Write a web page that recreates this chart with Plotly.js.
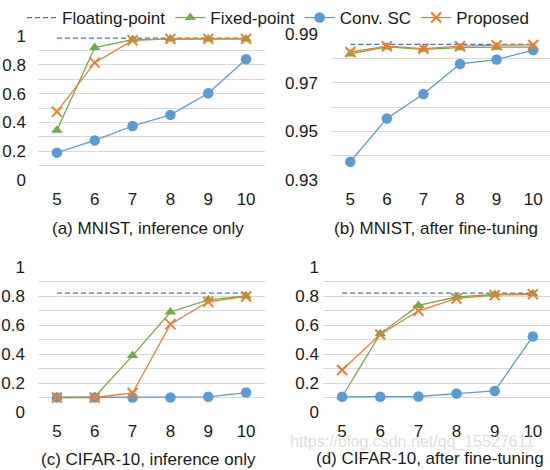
<!DOCTYPE html>
<html>
<head>
<meta charset="utf-8">
<script src="https://cdn.plot.ly/plotly-3.0.1.min.js"></script>
<style>html,body{margin:0;padding:0;background:#fff}#chart{width:550px;height:470px}</style>
</head>
<body>
<div id="chart"></div>
<script>
// Bit-width categories (x axis)
const bits = [5, 6, 7, 8, 9, 10];

// (a) MNIST, inference only
const aFloat = [0.985, 0.985, 0.985, 0.985, 0.985, 0.985];
const aFixed = [0.345, 0.92, 0.975, 0.98, 0.98, 0.98];
const aConv  = [0.19, 0.275, 0.375, 0.452, 0.602, 0.838];
const aProp  = [0.475, 0.815, 0.97, 0.98, 0.98, 0.98];

// (b) MNIST, after fine-tuning
const bFloat = [0.9857, 0.9857, 0.9857, 0.9857, 0.9857, 0.9857];
const bFixed = [0.9818, 0.9847, 0.9837, 0.9844, 0.9846, 0.9846];
const bConv  = [0.9375, 0.9553, 0.9653, 0.9777, 0.9795, 0.9834];
const bProp  = [0.9826, 0.9850, 0.9840, 0.9850, 0.9854, 0.9855];

// (c) CIFAR-10, inference only
const cFloat = [0.82, 0.82, 0.82, 0.82, 0.82, 0.82];
const cFixed = [0.103, 0.105, 0.389, 0.69, 0.774, 0.80];
const cConv  = [0.10, 0.10, 0.10, 0.10, 0.105, 0.134];
const cProp  = [0.10, 0.10, 0.131, 0.606, 0.76, 0.797];

// (d) CIFAR-10, after fine-tuning
const dFloat = [0.82, 0.82, 0.82, 0.82, 0.82, 0.82];
const dFixed = [0.105, 0.539, 0.735, 0.793, 0.811, 0.816];
const dConv  = [0.105, 0.105, 0.107, 0.127, 0.145, 0.521];
const dProp  = [0.29, 0.535, 0.698, 0.783, 0.806, 0.813];

const seriesNames = ['Floating-point', 'Fixed-point', 'Conv. SC', 'Proposed'];
const captions = ['(a) MNIST, inference only', '(b) MNIST, after fine-tuning',
                  '(c) CIFAR-10, inference only', '(d) CIFAR-10, after fine-tuning'];

const C_FLOAT = '#4472C4', C_FIX = '#70AD47', C_CONV = '#5B9BD5', C_PROP = '#ED7D31';
const FONT = '"Liberation Sans", Arial, sans-serif';
const FS = 17;
const TXT = '#1a1a1a';

const panels = [
  [aFloat, aFixed, aConv, aProp],
  [bFloat, bFixed, bConv, bProp],
  [cFloat, cFixed, cConv, cProp],
  [dFloat, dFixed, dConv, dProp]
];

const traces = [];
panels.forEach((p, i) => {
  const xa = i === 0 ? 'x' : 'x' + (i + 1);
  const ya = i === 0 ? 'y' : 'y' + (i + 1);
  const show = i === 0;
  traces.push({x: bits, y: p[0], xaxis: xa, yaxis: ya, name: seriesNames[0], legendgroup: 'f', showlegend: show,
    mode: 'lines', line: {color: C_FLOAT, width: 1.3, dash: '5px,3px'}, cliponaxis: false});
  traces.push({x: bits, y: p[1], xaxis: xa, yaxis: ya, name: seriesNames[1], legendgroup: 'x', showlegend: show,
    mode: 'lines+markers', line: {color: C_FIX, width: 1.3},
    marker: {symbol: 'triangle-up', size: 10, color: C_FIX}, cliponaxis: false});
  traces.push({x: bits, y: p[2], xaxis: xa, yaxis: ya, name: seriesNames[2], legendgroup: 'c', showlegend: show,
    mode: 'lines+markers', line: {color: C_CONV, width: 1.3},
    marker: {symbol: 'circle', size: 10.5, color: C_CONV}, cliponaxis: false});
  traces.push({x: bits, y: p[3], xaxis: xa, yaxis: ya, name: seriesNames[3], legendgroup: 'p', showlegend: show,
    mode: 'lines+markers', line: {color: C_PROP, width: 1.3},
    marker: {symbol: 'x-thin-open', size: 10, color: C_PROP, line: {color: C_PROP, width: 2}}, cliponaxis: false});
});

const W = 550, H = 470;
function xd(l, r) { return [l / W, r / W]; }
function yd(b, t) { return [1 - b / H, 1 - t / H]; }

function xAxis(dom, anchor, rng) {
  return {domain: dom, anchor: anchor, range: rng, tickvals: bits, ticktext: bits.map(String),
    showgrid: false, zeroline: false, showline: false, ticks: '', ticklabelstandoff: 7,
    tickfont: {family: FONT, size: FS, color: TXT}, fixedrange: true};
}
function yAxis(dom, anchor, rng, dtick, tick0, minor, standoff) {
  return {domain: dom, anchor: anchor, range: rng, dtick: dtick, tick0: tick0,
    showgrid: true, gridcolor: '#d9d9d9', gridwidth: 1, zeroline: false, showline: false, ticks: '',
    minor: {dtick: minor, tick0: tick0, showgrid: true, gridcolor: '#d9d9d9', gridwidth: 1},
    ticklabelstandoff: standoff,
    tickfont: {family: FONT, size: FS, color: TXT}, fixedrange: true};
}

function cap(text, x, y) {
  return {text: text, xref: 'paper', yref: 'paper', x: x / W, y: 1 - y / H, showarrow: false,
    xanchor: 'center', yanchor: 'middle', font: {family: FONT, size: FS, color: TXT}};
}

const layout = {
  width: W, height: H,
  margin: {l: 0, r: 0, t: 0, b: 0},
  paper_bgcolor: '#fff', plot_bgcolor: 'rgba(0,0,0,0)',
  font: {family: FONT, size: FS, color: TXT},
  showlegend: true,
  legend: {orientation: 'h', x: 0.5 + 3 / W, xanchor: 'center', y: 1, yanchor: 'top',
    font: {family: FONT, size: FS, color: TXT}, traceorder: 'normal',
    itemwidth: 30, tracegroupgap: 0, bgcolor: 'rgba(0,0,0,0)'},
  xaxis:  xAxis(xd(38, 265), 'y',  [4.5, 10.5]),
  yaxis:  yAxis(yd(180, 36), 'x',  [0, 1], 0.2, 0, 0.1, 11),
  xaxis2: xAxis(xd(332, 550), 'y2', [4.5, 10.46]),
  yaxis2: yAxis(yd(180, 34), 'x2', [0.93, 0.99], 0.02, 0.93, 0.01, 13),
  xaxis3: xAxis(xd(38, 265), 'y3', [4.5, 10.5]),
  yaxis3: yAxis(yd(412, 267), 'x3', [0, 1], 0.2, 0, 0.1, 12),
  xaxis4: xAxis(xd(323, 550), 'y4', [4.5, 10.45]),
  yaxis4: yAxis(yd(412, 267), 'x4', [0, 1], 0.2, 0, 0.1, 3),
  annotations: [
    cap(captions[0], 148, 228),
    cap(captions[1], 436, 228),
    cap(captions[2], 148, 459),
    cap(captions[3], 430, 458),
    {text: 'https://blog.csdn.net/qq_15527611', xref: 'paper', yref: 'paper', x: 412 / W, y: 1 - 442 / H,
      showarrow: false, xanchor: 'center', yanchor: 'middle',
      font: {family: FONT, size: 16, color: 'rgba(190,190,190,0.5)'}}
  ]
};

Plotly.newPlot('chart', traces, layout, {displayModeBar: false, staticPlot: true});
</script>
</body>
</html>
